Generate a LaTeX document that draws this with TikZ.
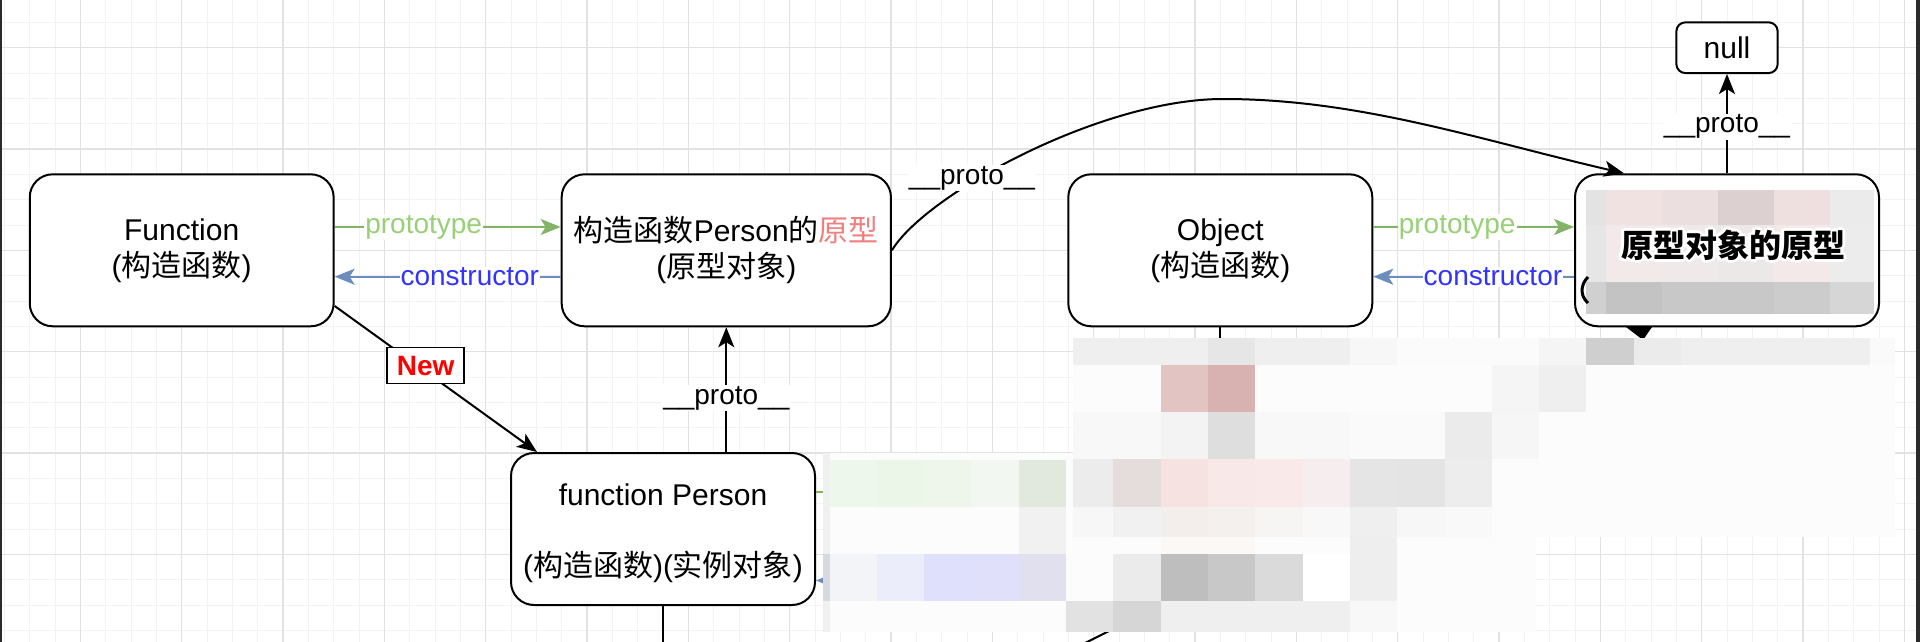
\documentclass[tikz,border=0pt]{standalone}
\usepackage{fontspec}
\setmainfont{Liberation Sans}
\newfontfamily\cjk{Noto Sans CJK SC}
\usetikzlibrary{arrows.meta,calc}
\definecolor{gline}{RGB}{130,179,102}
\definecolor{gtext}{RGB}{151,208,119}
\definecolor{bline}{RGB}{108,142,191}
\definecolor{btext}{RGB}{51,51,255}
\definecolor{pinktext}{RGB}{240,128,128}
\definecolor{gridminor}{RGB}{243,243,243}
\definecolor{gridmajor}{RGB}{226,226,226}
\definecolor{frame}{RGB}{42,42,42}
\newcommand\mcell[5]{\definecolor{mctmp}{HTML}{#5}\fill[mctmp] (#1,#2) rectangle (#3,#4);}
\begin{document}
\begin{tikzpicture}[x=1pt,y=-1pt,
  box/.style={draw=black,line width=2pt,fill=white,rounded corners=23pt,inner sep=0pt,align=center,font=\fontsize{30}{36}\selectfont},
  lab/.style={fill=white,inner sep=1pt,font=\fontsize{28}{32}\selectfont},
  tip/.style={-{Stealth[length=20pt,width=16pt,inset=5pt]}},
  arr/.style={draw=black,line width=2pt,tip},
  garr/.style={draw=gline,line width=2pt,tip},
  barr/.style={draw=bline,line width=2pt,tip},
  newlab/.style={draw=black,line width=1.5pt,fill=white,text=red,inner sep=0pt,minimum width=77pt,minimum height=36pt,font=\fontsize{28}{32}\selectfont\bfseries},
  qtxt/.style={inner sep=0pt,font=\fontsize{32}{36}\selectfont\cjk\bfseries}
]
\useasboundingbox (0,0) rectangle (1920,642);
\clip (0,0) rectangle (1920,642);
% background grid
\fill[white] (0,0) rectangle (1920,642);
\foreach \i in {-3,...,72} \draw[gridminor,line width=1pt] ({80.333+25.3333*\i},0) -- ({80.333+25.3333*\i},642);
\foreach \j in {-1,...,23} \draw[gridminor,line width=1pt] (0,{47.667+25.3333*\j}) -- (1920,{47.667+25.3333*\j});
\foreach \i in {0,...,18} \draw[gridmajor,line width=1.3pt] ({80.333+101.3333*\i},0) -- ({80.333+101.3333*\i},642);
\foreach \j in {0,...,5} \draw[gridmajor,line width=1.3pt] (0,{47.667+101.3333*\j}) -- (1920,{47.667+101.3333*\j});
\fill[frame] (0,0) rectangle (2.2,642);
\fill[frame] (1916,0) rectangle (1920,642);

% nodes
\node[box,minimum width=303.9pt,minimum height=152pt] (F) at (181.7,250.3) {Function\\({\cjk 构造函数})};
\node[box,minimum width=329.3pt,minimum height=152pt] (P) at (726.3,250.3) {{\cjk 构造函数}Person{\cjk 的\textcolor{pinktext}{原型}}\\({\cjk 原型对象})};
\node[box,minimum width=304pt,minimum height=152pt] (O) at (1220.3,250.3) {Object\\({\cjk 构造函数})};
\node[box,minimum width=304pt,minimum height=152pt] (Q) at (1727,250.3) {};
\node[box,minimum width=101.3pt,minimum height=50.7pt,rounded corners=9pt] (N) at (1727,47.7) {null};
\node[box,minimum width=304pt,minimum height=152pt] (FP) at (663,529) {\rule{0pt}{31pt}function Person\\[35pt]({\cjk 构造函数})({\cjk 实例对象})};

% helper coordinates
\coordinate (ya) at (0,227);
\coordinate (yb) at (0,276.7);
\coordinate (qx) at (1624,0);
\coordinate (nx) at (537,0);
\coordinate (bot) at (0,660);
\coordinate (gy) at (0,492);
\coordinate (by) at (0,580.5);
\coordinate (mx) at (880,0);

% connectors
\draw[garr] (F.east |- ya) -- node[lab,text=gtext,pos=0.394] (l1) {prototype} (P.west |- ya);
\draw[barr] (P.west |- yb) -- node[lab,text=btext,pos=0.402] (l2) {constructor} (F.east |- yb);
\draw[garr] (O.east |- ya) -- node[lab,text=gtext,pos=0.418] (l3) {prototype} (Q.west |- ya);
\draw[barr] (Q.west |- yb) -- node[lab,text=btext,pos=0.404] (l4) {constructor} (O.east |- yb);
\draw[arr] (P.east) .. controls (925,195) and (1100,99) .. (1223,99) .. controls (1360,99) and (1480,140) .. (Q.north -| qx);
\node[lab] (l5) at (972,178) {\_\_proto\_\_};
\draw[arr] (Q.north) -- node[lab,pos=0.47] (l6) {\_\_proto\_\_} (N.south);
\draw[arr] (FP.north -| P.south) -- node[lab,pos=0.434] (l7) {\_\_proto\_\_} (P.south);
\draw[arr] (F.-20.5) -- node[newlab,pos=0.45,yshift=6pt] (l8) {New} (FP.north -| nx);
\draw[line width=2pt] (FP.south) -- (FP.south |- bot);
\draw[line width=2pt] (O.south) -- ++(0,30);
\draw[gline,line width=2pt] (FP.east |- gy) -- (mx |- gy);
\draw[barr] (mx |- by) -- (FP.east |- by);
\draw[line width=2pt] (1127,622) -- (1067,652);
\fill (1626,327) -- (1652,327) -- (1643,340) -- cycle;

% mosaic (left part)
\mcell{823}{453}{1073}{632}{FCFCFC}
\mcell{823}{453}{830}{632}{F0F0F0}
\mcell{823}{554}{830}{601}{D5D9E0}
\mcell{830}{460}{877}{507}{EEF7EC}\mcell{877}{460}{924}{507}{EBF5E8}\mcell{924}{460}{971}{507}{EEF6EC}\mcell{971}{460}{1019}{507}{F3F7F2}\mcell{1019}{460}{1066}{507}{E1E8DE}
\mcell{1019}{507}{1066}{554}{F1F1F1}
\mcell{830}{554}{877}{601}{F3F4F8}\mcell{877}{554}{924}{601}{EBEDFA}\mcell{924}{554}{971}{601}{DFE0FB}\mcell{971}{554}{1019}{601}{E1E0FA}\mcell{1019}{554}{1066}{601}{E1E0EF}
% mosaic (right part)
\mcell{1073}{338}{1895}{537}{FCFCFC}
\mcell{1066}{537}{1536}{632}{FCFCFC}
\mcell{1073}{338}{1208}{365}{EFEFEF}\mcell{1208}{338}{1255}{365}{E6E6E6}\mcell{1255}{338}{1350}{365}{EFEFEF}\mcell{1350}{338}{1397}{365}{F7F7F7}\mcell{1397}{338}{1539}{365}{FBFBFB}\mcell{1539}{338}{1586}{365}{F5F5F5}\mcell{1586}{338}{1634}{365}{CFCFCF}\mcell{1634}{338}{1681}{365}{EBEBEB}\mcell{1681}{338}{1870}{365}{EFEFEF}\mcell{1870}{338}{1895}{365}{FAFAFA}
\mcell{1161}{365}{1208}{412}{E2C5C3}\mcell{1208}{365}{1255}{412}{D8B2B1}\mcell{1492}{365}{1539}{412}{F5F5F5}\mcell{1539}{365}{1586}{412}{EFEFEF}
\mcell{1073}{412}{1161}{459}{F8F8F8}\mcell{1161}{412}{1208}{459}{F3F3F3}\mcell{1208}{412}{1255}{459}{DEDEDE}\mcell{1255}{412}{1350}{459}{F8F8F8}\mcell{1350}{412}{1445}{459}{FAFAFA}\mcell{1445}{412}{1492}{459}{EBEBEB}\mcell{1492}{412}{1539}{459}{F6F6F6}
\mcell{1073}{459}{1113}{507}{ECECEC}\mcell{1113}{459}{1161}{507}{E5DCDC}\mcell{1161}{459}{1208}{507}{F6E2E1}\mcell{1208}{459}{1255}{507}{F8E9E8}\mcell{1255}{459}{1303}{507}{F9E9E9}\mcell{1303}{459}{1350}{507}{F6EEEE}\mcell{1350}{459}{1397}{507}{E5E5E5}\mcell{1397}{459}{1445}{507}{E4E4E4}\mcell{1445}{459}{1492}{507}{EDEDED}
\mcell{1073}{507}{1113}{537}{F7F7F7}\mcell{1113}{507}{1161}{537}{F1F1F1}\mcell{1161}{507}{1208}{537}{F3EEEB}\mcell{1208}{507}{1255}{537}{F3F0EE}\mcell{1255}{507}{1303}{537}{F6F5F4}\mcell{1303}{507}{1350}{537}{F8F8F8}\mcell{1350}{507}{1397}{537}{EFEFEF}\mcell{1397}{507}{1445}{537}{F7F7F7}\mcell{1445}{507}{1492}{537}{F9F9F9}
\mcell{1161}{537}{1255}{554}{FCF8F6}\mcell{1350}{537}{1397}{601}{EEEEEE}
\mcell{1113}{554}{1161}{601}{EBEBEB}\mcell{1161}{554}{1208}{601}{BEBEBE}\mcell{1208}{554}{1255}{601}{C8C8C8}\mcell{1255}{554}{1303}{601}{DADADA}\mcell{1303}{554}{1350}{601}{FFFFFF}
\mcell{1066}{601}{1113}{632}{E2E2E2}\mcell{1113}{601}{1161}{632}{D6D6D6}\mcell{1161}{601}{1350}{632}{EFEFEF}\mcell{1350}{601}{1397}{632}{F8F8F8}
% mosaic inside Q
\mcell{1586}{190}{1606}{225}{E3E3E3}\mcell{1606}{190}{1662}{225}{EFE2E1}\mcell{1662}{190}{1718}{225}{ECDFDF}\mcell{1718}{190}{1774}{225}{DCD0D0}\mcell{1774}{190}{1830}{225}{EEE0DF}\mcell{1830}{190}{1874}{225}{EBEBEB}
\mcell{1586}{225}{1606}{282}{E6E6E6}\mcell{1606}{225}{1662}{282}{F2EAE9}\mcell{1662}{225}{1718}{282}{F0E9E9}\mcell{1718}{225}{1774}{282}{ECE8E8}\mcell{1774}{225}{1830}{282}{F2E9E8}\mcell{1830}{225}{1874}{282}{ECECEC}
\mcell{1586}{282}{1606}{314}{D0D0D0}\mcell{1606}{282}{1662}{314}{C3C3C3}\mcell{1662}{282}{1718}{314}{C8C8C8}\mcell{1718}{282}{1774}{314}{C8C8C8}\mcell{1774}{282}{1830}{314}{CCCCCC}\mcell{1830}{282}{1874}{314}{D6D6D6}
\draw[line width=3pt] (1588,277) .. controls (1580,285) and (1580,296) .. (1588,303);

% title text with white halo
\coordinate (qc) at (1733,245);
\foreach \a [count=\k] in {0,45,...,315} \node[qtxt,text=white] (qh\k) at ($(qc)+(\a:3)$) {原型对象的原型};
\node[qtxt] (qt) at (qc) {原型对象的原型};
\end{tikzpicture}
\end{document}
